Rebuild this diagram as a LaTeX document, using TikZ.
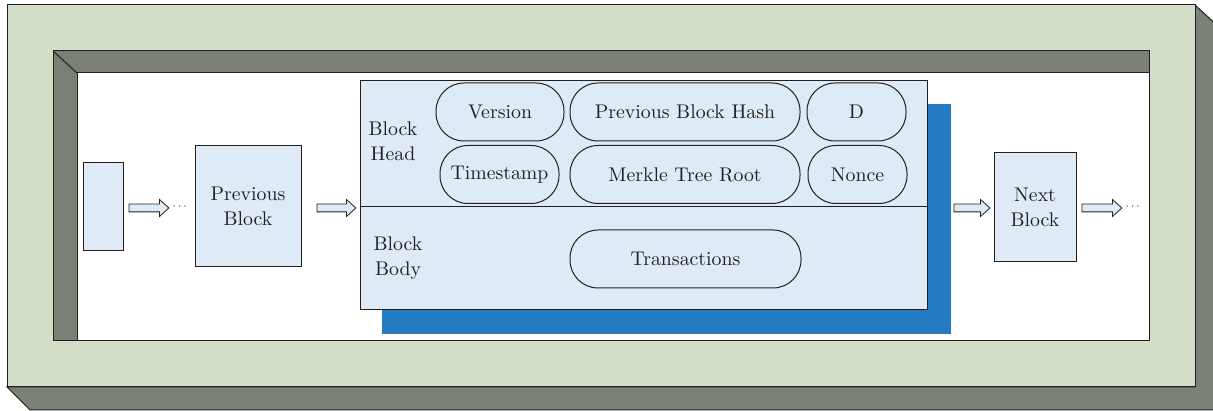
\documentclass[tikz,border=0pt]{standalone}
\usepackage{fontspec}
\setmainfont{lmroman10-regular}[Extension=.otf, BoldFont=lmroman10-bold, ItalicFont=lmroman10-italic]
\usepackage{tikz}
\usetikzlibrary{shapes.arrows,calc}

\definecolor{framegreen}{HTML}{D3DEC8}
\definecolor{framegray}{HTML}{7A8174}
\definecolor{cellblue}{HTML}{DEEAF5}
\definecolor{shadeblue}{HTML}{247BC2}
\definecolor{ink}{HTML}{231F20}

\begin{document}
\begin{tikzpicture}[x=1pt,y=-1pt,
  every node/.style={font=\fontsize{19.8}{25.5}\selectfont, text=ink},
  edge line/.style={draw=ink, line width=1pt},
  cell/.style={edge line, fill=cellblue, inner sep=0pt},
  pill/.style={edge line, rounded corners=28pt, minimum height=58pt, inner sep=0pt},
  label/.style={align=center, inner sep=0pt},
  flow/.style={single arrow, draw=ink, line width=0.8pt, fill=cellblue,
    inner xsep=0pt, inner ysep=3.5pt, text height=0pt, text depth=0pt,
    single arrow head extend=4.5pt,
    single arrow tip angle=84, anchor=tail},
  ellipsis/.style={font=\fontsize{13}{13}\selectfont, inner sep=0pt, anchor=west}]

\useasboundingbox (0,0) rectangle (1213,411);

% raised outer frame: extruded side faces, then the front face
\begin{scope}
  \clip (0,0) rectangle (1213,411);
  \filldraw[fill=framegray, edge line]
    (7,387) -- (30,410) -- (1220,410) -- (1220,28) -- (1195,5) -- (1195,387) -- cycle;
\end{scope}
\filldraw[fill=framegreen, edge line] (7,5) rectangle (1195,387);

% sunken panel with its inner walls
\fill[framegray] (53,51) rectangle (1149,341);
\fill[white] (77,73) rectangle (1149,341);
\draw[edge line] (53,51) rectangle (1149,341);
\draw[edge line] (77,341) -- (77,73) -- (1149,73);
\draw[edge line] (53,51) -- (77,73);

% chain of blocks
\node[cell, minimum width=40pt, minimum height=88pt] (first) at (103,207) {};
\node[cell, minimum width=106pt, minimum height=121pt, label] (prev) at (248,206.5) {Previous\\Block};
\fill[shadeblue] (382,104) rectangle (951,334);
\node[cell, minimum width=567pt, minimum height=229pt] (main) at (643.5,195.5) {};
\draw[edge line] (main.west |- 0,207) -- (main.east |- 0,207);
\node[cell, minimum width=82pt, minimum height=109pt, label] (next) at (1035,207.5) {Next\\Block};

% block head and body labels
\node[label] (headlbl) at (393,141) {Block\\Head};
\node[label] (bodylbl) at (398,258) {Block\\Body};

% header fields
\node[pill, minimum width=128pt] (version) at (500,112) {Version};
\node[pill, minimum width=230pt] (prevhash) at (685,112) {Previous Block Hash};
\node[pill, minimum width=99pt] (difficulty) at (856.5,112) {D};
\node[pill, minimum width=119pt] (timestamp) at (499.5,174.5) {Timestamp};
\node[pill, minimum width=230pt] (merkle) at (685,174.5) {Merkle Tree Root};
\node[pill, minimum width=99pt] (nonce) at (857.5,174.5) {Nonce};

% body content
\node[pill, minimum width=231pt] (tx) at (685.5,259) {Transactions};

% links between blocks
\node[flow, minimum height=40pt] (l1) at ($(first.east)+(5,1)$) {};
\node[ellipsis] (d1) at ($(l1.tip)+(3,-1)$) {$\cdots$};
\node[flow, minimum height=39pt] (l2) at ($(prev.east)+(15,1.5)$) {};
\node[flow, minimum height=36pt] (l3) at ($(main.east)+(26,12.5)$) {};
\node[flow, minimum height=40pt] (l4) at ($(next.east)+(5,0.5)$) {};
\node[ellipsis] (d2) at ($(l4.tip)+(3,-1)$) {$\cdots$};

\end{tikzpicture}
\end{document}
